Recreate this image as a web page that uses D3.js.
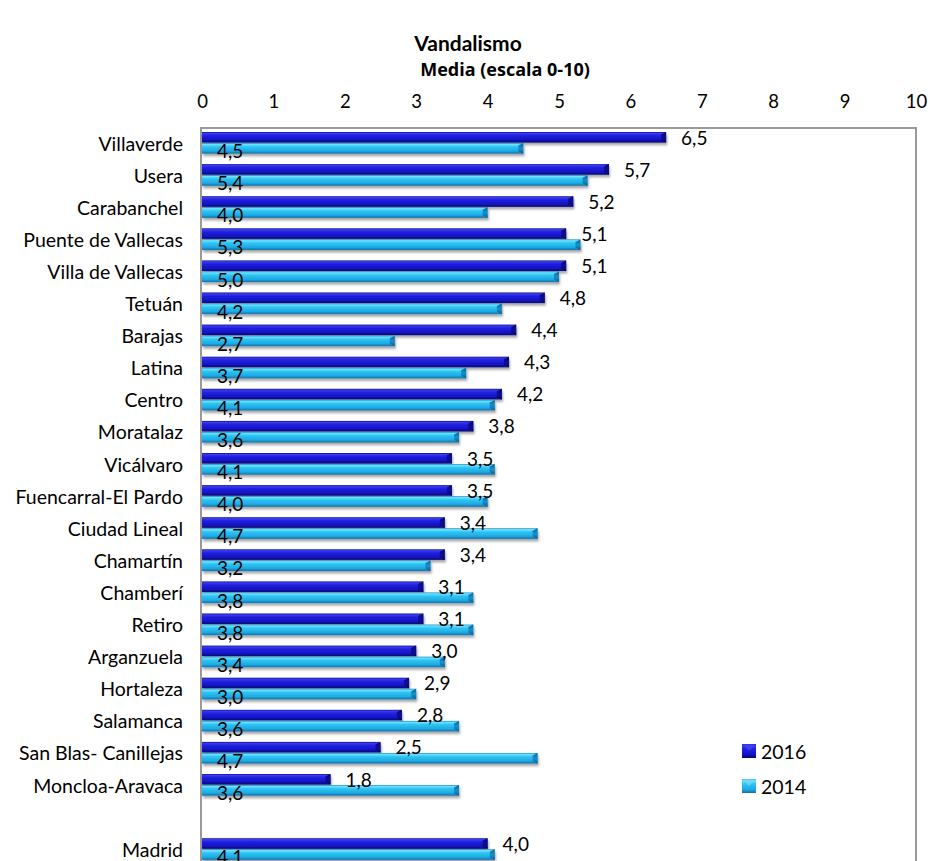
<!DOCTYPE html>
<html><head><meta charset="utf-8">
<script src="https://cdn.jsdelivr.net/npm/d3@7/dist/d3.min.js"></script>
<style>
body{margin:0;background:#fff;}
svg text{fill:#000;}
</style></head><body>
<svg id="c" width="930" height="861"></svg>
<script>
const categories = ["Villaverde","Usera","Carabanchel","Puente de Vallecas","Villa de Vallecas","Tetuán","Barajas","Latina","Centro","Moratalaz","Vicálvaro","Fuencarral-El Pardo","Ciudad Lineal","Chamartín","Chamberí","Retiro","Arganzuela","Hortaleza","Salamanca","San Blas- Canillejas","Moncloa-Aravaca"," ","Madrid"];
const values2016 = [6.5,5.7,5.2,5.1,5.1,4.8,4.4,4.3,4.2,3.8,3.5,3.5,3.4,3.4,3.1,3.1,3.0,2.9,2.8,2.5,1.8,null,4.0];
const values2014 = [4.5,5.4,4.0,5.3,5.0,4.2,2.7,3.7,4.1,3.6,4.1,4.0,4.7,3.2,3.8,3.8,3.4,3.0,3.6,4.7,3.6,null,4.1];
const seriesNames = ["2016","2014"];
const xTicks = [0,1,2,3,4,5,6,7,8,9,10];
const titleText = "Vandalismo";
const axisTitle = "Media (escala 0-10)";

const MAIN = "'Gill Sans','Gill Sans MT',Lato,sans-serif";
const svg = d3.select("#c");
const defs = svg.append("defs");
function grad(id, stops){
  const g = defs.append("linearGradient").attr("id",id).attr("x1",0).attr("y1",0).attr("x2",0).attr("y2",1);
  stops.forEach(s=>g.append("stop").attr("offset",s[0]).attr("stop-color",s[1]));
}
grad("g2016",[[0,"#0a0a8a"],[0.12,"#3c3cf2"],[0.35,"#2020e0"],[0.75,"#1414c0"],[1,"#06066e"]]);
grad("g2014",[[0,"#1582bf"],[0.12,"#6ee4ff"],[0.35,"#2ec4f4"],[0.75,"#1fa9e2"],[1,"#0f6fa8"]]);
grad("c2016",[[0,"#04045a"],[0.5,"#0c0c9c"],[1,"#04045a"]]);
grad("c2014",[[0,"#0c5f94"],[0.5,"#1790cc"],[1,"#0c5f94"]]);
const f = defs.append("filter").attr("id","sh").attr("x","-5%").attr("y","-50%").attr("width","110%").attr("height","250%");
f.append("feDropShadow").attr("dx",1).attr("dy",2.5).attr("stdDeviation",1.2).attr("flood-color","#000").attr("flood-opacity",0.35);

const x = d3.scaleLinear().domain([0,10]).range([202,916]);
const y = d3.scaleBand().domain(categories).range([128,128+22.94*32.1]).paddingInner(0.31).paddingOuter(0.125);
const y1 = d3.scaleBand().domain(seriesNames).range([0,y.bandwidth()]);
const bh = y1.bandwidth();

svg.append("text").attr("x",468).attr("y",51).attr("text-anchor","middle").style("font-family",MAIN).style("font-weight","bold").style("font-size","21px").text(titleText);
svg.append("text").attr("x",505).attr("y",76).attr("text-anchor","middle").style("font-family","'Open Sans',Lato,sans-serif").style("font-weight","bold").style("font-size","18px").text(axisTitle);

// plot border
svg.append("rect").attr("x",201).attr("y",128).attr("width",715).attr("height",800).attr("fill","none").attr("stroke","#9a9a9a").attr("stroke-width",2);

const xa = svg.append("g").attr("transform","translate(0,108)").call(d3.axisTop(x).tickValues(xTicks).tickSize(0).tickPadding(0).tickFormat(d3.format("d")));
xa.select(".domain").remove();
xa.selectAll("text").style("font-size","18.5px").style("font-family",MAIN);

const ya = svg.append("g").attr("transform","translate(183,0)").call(d3.axisLeft(y).tickSize(0).tickPadding(0));
ya.select(".domain").remove();
ya.selectAll("text").style("font-size","19.5px").style("font-family",MAIN).attr("dy","0.38em");

const fmt = v => d3.format(".1f")(v).replace(".",",");
const data = [];
categories.forEach((c,i)=>{
  if(values2016[i]!=null) data.push({c, s:"2016", v:values2016[i]});
  if(values2014[i]!=null) data.push({c, s:"2014", v:values2014[i]});
});

const bars = svg.append("g").selectAll("g").data(data).join("g").attr("filter","url(#sh)");
bars.append("rect").attr("x",x(0)).attr("y",d=>y(d.c)+y1(d.s)).attr("width",d=>x(d.v)-x(0)).attr("height",bh-0.5)
  .attr("fill",d=>`url(#g${d.s})`);
bars.append("path").attr("d",d=>{
  const x2=x(d.v), yt=y(d.c)+y1(d.s), yb=yt+bh-0.5;
  return `M${x2-5},${yt+2.5}L${x2},${yt}L${x2},${yb}L${x2-5},${yb-2.5}Z`;
}).attr("fill",d=>`url(#c${d.s})`);

svg.append("g").selectAll("text").data(data).join("text")
  .style("font-size","19px").style("font-family",MAIN)
  .attr("x",d=>d.s==="2016"? x(d.v)+15 : x(0)+15)
  .attr("y",d=>d.s==="2016"? y(d.c)+y1(d.s)+bh+1.5 : y(d.c)+y1(d.s)+bh+4)
  .text(d=>fmt(d.v));

// legend
const lg = svg.append("g").selectAll("g").data(seriesNames).join("g").attr("transform",(d,i)=>`translate(742,${744+i*35})`);
lg.append("rect").attr("width",14).attr("height",14).attr("fill",d=>`url(#g${d})`);
lg.append("path").attr("d","M0,0L7,7L14,0Z").attr("fill",d=>d==="2016"?"#4545f5":"#70dcff").attr("opacity",0.7);
lg.append("text").attr("x",19).attr("y",14.5).style("font-size","19.5px").style("font-family","Lato,sans-serif").text(d=>d);
</script></body></html>
